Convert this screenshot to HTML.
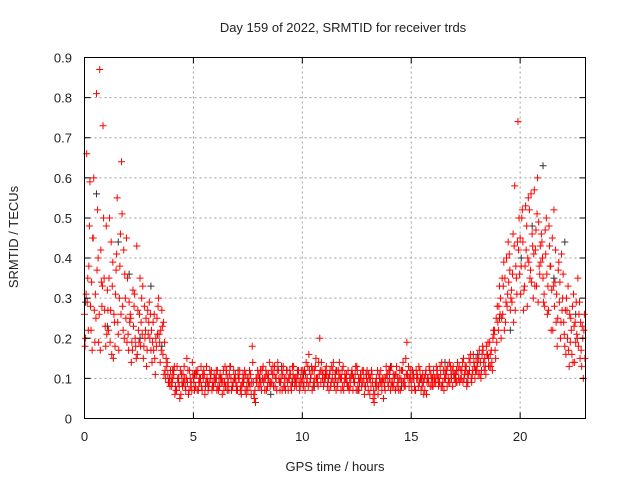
<!DOCTYPE html>
<html><head><meta charset="utf-8">
<style>
body{margin:0;background:#fff;}
svg text{font-family:"Liberation Sans","DejaVu Sans",sans-serif;font-size:13px;fill:#222;}
</style></head>
<body>
<svg id="chart" width="640" height="480" xmlns="http://www.w3.org/2000/svg">
<rect width="640" height="480" fill="#fff"/>
<g id="grid"></g>
<g id="black"></g>
<g id="red"></g>
<rect x="84.5" y="57.5" width="501" height="361" fill="none" stroke="#000"/>
<g id="ticks"></g>
<text x="343" y="32" text-anchor="middle">Day 159 of 2022, SRMTID for receiver trds</text>
<text x="335" y="471" text-anchor="middle">GPS time / hours</text>
<text x="18" y="237" text-anchor="middle" transform="rotate(-90 18 237)">SRMTID / TECUs</text>
</svg>
<script>
const xTicks=[0,5,10,15,20];
const yTicks=[0,0.1,0.2,0.3,0.4,0.5,0.6,0.7,0.8,0.9];
const yTickLabels=["0","0.1","0.2","0.3","0.4","0.5","0.6","0.7","0.8","0.9"];
const redA=[0.26,0.66,0.38,0.22,0.45,0.31,0.52,0.87,0.28,0.35,
0.48,0.22,0.27,0.39,0.18,0.55,0.30,0.64,0.42,0.25,
0.21,0.26,0.17,0.31,0.43,0.19,0.24,0.15,0.22,0.27,
0.20,0.14,0.26,0.18,0.30,0.22,0.16,0.12,0.14,0.10,
0.08,0.11,0.07,0.09,0.12,0.08,0.10,0.15,0.07,0.09,
0.10,0.08,0.12,0.09,0.07,0.11,0.13,0.08,0.10,0.09,
0.09,0.12,0.08,0.10,0.07,0.11,0.09,0.13,0.08,0.10,
0.08,0.10,0.06,0.09,0.11,0.07,0.08,0.18,0.05,0.09,
0.11,0.09,0.13,0.10,0.08,0.14,0.09,0.11,0.10,0.12,
0.09,0.11,0.08,0.12,0.10,0.07,0.13,0.09,0.11,0.08,
0.10,0.12,0.09,0.16,0.11,0.08,0.13,0.10,0.20,0.12,
0.09,0.13,0.10,0.08,0.12,0.11,0.09,0.14,0.10,0.07,
0.10,0.12,0.08,0.11,0.09,0.13,0.07,0.10,0.12,0.08,
0.09,0.06,0.11,0.04,0.10,0.08,0.12,0.09,0.07,0.11,
0.10,0.13,0.08,0.11,0.09,0.07,0.12,0.10,0.19,0.08,
0.09,0.11,0.07,0.10,0.12,0.08,0.10,0.06,0.09,0.11,
0.08,0.10,0.12,0.09,0.14,0.07,0.11,0.10,0.13,0.08,
0.11,0.09,0.13,0.10,0.15,0.12,0.09,0.14,0.11,0.13,
0.12,0.15,0.10,0.17,0.13,0.16,0.19,0.14,0.21,0.25,
0.22,0.30,0.26,0.35,0.28,0.41,0.32,0.24,0.38,0.74,
0.45,0.52,0.33,0.48,0.39,0.56,0.30,0.42,0.60,0.36,
0.44,0.31,0.50,0.27,0.38,0.22,0.34,0.18,0.29,0.41,
0.24,0.16,0.33,0.19,0.28,0.14,0.21,0.26,0.17,0.10];
const redB=[0.20,0.35,0.59,0.17,0.27,0.81,0.19,0.42,0.73,0.23,
0.32,0.50,0.16,0.26,0.37,0.21,0.46,0.28,0.36,0.19,
0.29,0.14,0.23,0.18,0.27,0.35,0.21,0.28,0.13,0.24,
0.17,0.24,0.11,0.21,0.19,0.27,0.11,0.15,0.09,0.12,
0.10,0.06,0.13,0.08,0.11,0.09,0.07,0.12,0.10,0.14,
0.07,0.11,0.09,0.13,0.10,0.08,0.09,0.12,0.07,0.11,
0.12,0.07,0.10,0.09,0.13,0.08,0.11,0.07,0.12,0.09,
0.11,0.07,0.09,0.12,0.08,0.10,0.06,0.09,0.04,0.12,
0.08,0.12,0.10,0.07,0.11,0.09,0.13,0.08,0.12,0.09,
0.12,0.08,0.10,0.07,0.11,0.13,0.08,0.10,0.09,0.12,
0.08,0.11,0.13,0.09,0.07,0.12,0.10,0.14,0.09,0.11,
0.12,0.08,0.11,0.13,0.09,0.07,0.12,0.10,0.08,0.11,
0.09,0.07,0.11,0.10,0.13,0.08,0.10,0.12,0.06,0.10,
0.11,0.08,0.05,0.09,0.12,0.10,0.07,0.10,0.13,0.08,
0.07,0.09,0.11,0.08,0.10,0.12,0.09,0.15,0.10,0.12,
0.12,0.08,0.10,0.13,0.07,0.09,0.11,0.10,0.12,0.08,
0.10,0.13,0.08,0.11,0.09,0.12,0.08,0.14,0.10,0.11,
0.09,0.12,0.10,0.14,0.11,0.08,0.15,0.10,0.16,0.12,
0.14,0.11,0.16,0.12,0.18,0.15,0.13,0.20,0.17,0.28,
0.33,0.25,0.39,0.29,0.44,0.27,0.36,0.58,0.31,0.50,
0.38,0.27,0.53,0.40,0.35,0.46,0.57,0.33,0.49,0.39,
0.35,0.47,0.26,0.43,0.32,0.52,0.24,0.37,0.20,0.30,
0.18,0.27,0.13,0.22,0.31,0.19,0.35,0.15,0.23,0.26];
const redC=[0.18,0.29,0.48,0.34,0.60,0.25,0.40,0.17,0.33,0.27,
0.21,0.35,0.44,0.15,0.31,0.24,0.38,0.51,0.20,0.45,
0.17,0.25,0.32,0.20,0.16,0.26,0.30,0.18,0.25,0.21,
0.26,0.19,0.15,0.25,0.21,0.17,0.24,0.10,0.11,0.08,
0.09,0.13,0.07,0.10,0.06,0.11,0.08,0.09,0.12,0.07,
0.09,0.12,0.07,0.10,0.11,0.06,0.10,0.09,0.12,0.08,
0.10,0.08,0.11,0.06,0.09,0.12,0.07,0.10,0.09,0.11,
0.07,0.12,0.08,0.10,0.06,0.09,0.11,0.14,0.07,0.10,
0.10,0.07,0.09,0.12,0.10,0.08,0.11,0.13,0.07,0.10,
0.10,0.13,0.07,0.09,0.12,0.09,0.10,0.08,0.12,0.10,
0.12,0.07,0.10,0.12,0.13,0.09,0.15,0.08,0.12,0.10,
0.10,0.11,0.07,0.09,0.14,0.10,0.08,0.11,0.12,0.09,
0.11,0.08,0.10,0.07,0.11,0.12,0.09,0.08,0.10,0.11,
0.07,0.10,0.09,0.06,0.08,0.11,0.09,0.05,0.10,0.09,
0.12,0.08,0.10,0.13,0.07,0.10,0.14,0.08,0.11,0.10,
0.07,0.10,0.12,0.08,0.10,0.11,0.07,0.09,0.13,0.10,
0.12,0.09,0.10,0.13,0.08,0.10,0.12,0.09,0.11,0.13,
0.10,0.14,0.09,0.12,0.10,0.13,0.11,0.16,0.12,0.10,
0.13,0.17,0.12,0.14,0.11,0.19,0.16,0.12,0.22,0.19,
0.28,0.20,0.33,0.24,0.31,0.37,0.29,0.43,0.35,0.42,
0.31,0.44,0.38,0.28,0.52,0.34,0.41,0.47,0.29,0.43,
0.40,0.28,0.36,0.48,0.22,0.33,0.42,0.25,0.34,0.27,
0.21,0.30,0.17,0.25,0.14,0.24,0.20,0.29,0.13,0.22];
const redD=[0.31,0.22,0.28,0.45,0.19,0.37,0.26,0.34,0.50,0.18,
0.27,0.19,0.33,0.24,0.41,0.17,0.26,0.22,0.30,0.35,
0.24,0.19,0.28,0.15,0.22,0.18,0.33,0.20,0.17,0.29,
0.22,0.17,0.20,0.28,0.14,0.23,0.19,0.13,0.09,0.10,
0.12,0.08,0.10,0.05,0.09,0.13,0.10,0.06,0.08,0.11,
0.11,0.07,0.10,0.08,0.12,0.09,0.07,0.11,0.08,0.10,
0.07,0.10,0.09,0.12,0.08,0.10,0.13,0.08,0.10,0.07,
0.10,0.08,0.11,0.07,0.10,0.12,0.09,0.06,0.10,0.08,
0.12,0.10,0.07,0.11,0.09,0.12,0.08,0.10,0.14,0.07,
0.07,0.10,0.12,0.10,0.08,0.11,0.10,0.12,0.07,0.09,
0.09,0.14,0.08,0.10,0.12,0.10,0.09,0.11,0.14,0.08,
0.11,0.09,0.12,0.10,0.08,0.12,0.10,0.07,0.13,0.10,
0.08,0.10,0.12,0.09,0.07,0.10,0.11,0.09,0.08,0.12,
0.10,0.12,0.07,0.08,0.06,0.09,0.10,0.08,0.11,0.12,
0.09,0.11,0.07,0.10,0.12,0.09,0.08,0.11,0.13,0.10,
0.10,0.07,0.11,0.09,0.10,0.06,0.12,0.10,0.08,0.10,
0.09,0.11,0.10,0.08,0.12,0.10,0.13,0.09,0.12,0.10,
0.12,0.10,0.12,0.09,0.13,0.11,0.12,0.09,0.14,0.15,
0.11,0.14,0.18,0.15,0.16,0.13,0.17,0.22,0.15,0.24,
0.26,0.35,0.22,0.40,0.34,0.30,0.46,0.27,0.44,0.36,
0.50,0.32,0.42,0.55,0.37,0.43,0.33,0.51,0.38,0.46,
0.29,0.41,0.33,0.38,0.45,0.28,0.31,0.39,0.24,0.36,
0.27,0.20,0.26,0.16,0.23,0.29,0.18,0.24,0.20,0.15];
const blackVals=[0.29,0.56,0.23,0.44,0.36,0.20,0.33,0.18,0.12,0.09,0.11,0.08,0.10,0.07,0.12,0.09,0.10,0.06,0.13,0.09,0.11,0.08,0.10,0.12,0.09,0.07,0.11,0.10,0.13,0.08,0.12,0.09,0.10,0.14,0.11,0.09,0.16,0.13,0.25,0.22,0.40,0.48,0.63,0.35,0.44,0.26];
const redStep=0.1, blackStep=0.5, blackStart=0.05;

const X0=84.5,X1=585.5,Y0=418.5,Y1=57.5,XMAX=23,YMAX=0.9;
function xs(v){return X0+(X1-X0)*v/XMAX;}
function ys(v){return Y0-(Y0-Y1)*v/YMAX;}
const NS="http://www.w3.org/2000/svg";
function mk(tag,attrs,parent){const e=document.createElementNS(NS,tag);for(const k in attrs)e.setAttribute(k,attrs[k]);parent.appendChild(e);return e;}
const grid=document.getElementById('grid'),ticks=document.getElementById('ticks');
xTicks.forEach((t,i)=>{
  const x=xs(t);
  if(i>0){const g=mk('line',{x1:x,x2:x,y1:Y0,y2:Y1,stroke:'#a0a0a0','stroke-dasharray':'2,3'},grid);
  
  }
  const tk=mk('path',{d:`M${x},${Y0}v-6M${x},${Y1}v6`,stroke:'#000'},ticks);
  
  
  const tx=mk('text',{x:x,y:441,'text-anchor':'middle'},ticks);tx.textContent=t;
  
  
});
yTicks.forEach((t,i)=>{
  const y=ys(t);
  if(i>0&&i<yTicks.length-1){const g=mk('line',{x1:X0,x2:X1,y1:y,y2:y,stroke:'#a0a0a0','stroke-dasharray':'2,3'},grid);
  
  }
  const tk=mk('path',{d:`M${X0},${y}h6M${X1},${y}h-6`,stroke:'#000'},ticks);
  
  
  const tx=mk('text',{x:72,y:y+5,'text-anchor':'end'},ticks);tx.textContent=yTickLabels[i];
  
  
});
function plus(g,h,v,col){
  const x=xs(h),y=ys(v);
  const p=mk('path',{d:`M${x-3.5},${y}h7M${x},${y-3.5}v7`,stroke:col,'stroke-width':1},g);
  
  
}
const bg=document.getElementById('black'),rg=document.getElementById('red');
blackVals.forEach((v,i)=>plus(bg,blackStart+i*blackStep,v,'#333'));
redA.forEach((v,i)=>plus(rg,i*redStep,v,'#ff0000'));
redC.forEach((v,i)=>plus(rg,i*redStep+0.025,v,'#ff0000'));
redB.forEach((v,i)=>plus(rg,i*redStep+0.05,v,'#ff0000'));
redD.forEach((v,i)=>plus(rg,i*redStep+0.075,v,'#ff0000'));
</script>
</body></html>
